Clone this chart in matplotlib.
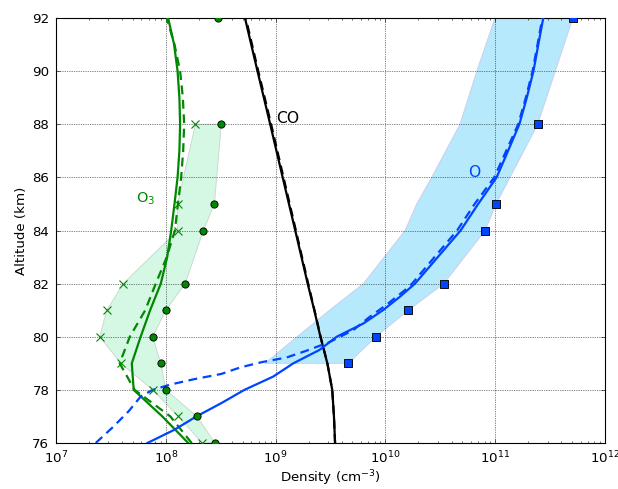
import numpy as np
import matplotlib
matplotlib.use("Agg")
import matplotlib.pyplot as plt

# ---- data ----
# O3 observations
o3_circ_alt = [76, 77, 78, 79, 80, 81, 82, 84, 85, 88, 92]
o3_circ_val = [2.8e8, 1.92e8, 1.0e8, 9.0e7, 7.6e7, 1.0e8, 1.5e8, 2.2e8, 2.77e8, 3.2e8, 3.0e8]
o3_x_alt = [76, 77, 78, 79, 80, 81, 82, 84, 85, 88]
o3_x_val = [2.15e8, 1.3e8, 7.6e7, 3.9e7, 2.5e7, 2.9e7, 4.1e7, 1.28e8, 1.28e8, 1.86e8]
o3_fill_hi = [2.8e8, 1.92e8, 1.0e8, 9.0e7, 7.6e7, 1.0e8, 1.5e8, 2.2e8, 2.77e8, 3.2e8]

# O3 models
o3_sol_alt = [76, 77, 78, 79, 80, 81, 82, 83, 84, 85, 86, 87, 88, 89, 90, 91, 92]
o3_sol_val = [1.6e8, 9.3e7, 5.1e7, 4.9e7, 5.9e7, 7.2e7, 9.0e7, 1.03e8, 1.12e8, 1.2e8, 1.28e8, 1.33e8,
              1.35e8, 1.33e8, 1.28e8, 1.19e8, 1.05e8]
o3_dash_alt = [76, 77, 78, 79, 80, 81, 82, 83, 84, 85, 86, 87, 88, 89, 90, 91, 92]
o3_dash_val = [1.72e8, 1.1e8, 5.2e7, 3.8e7, 4.7e7, 6.5e7, 8.1e7, 1.02e8, 1.21e8, 1.29e8, 1.38e8, 1.44e8,
               1.47e8, 1.43e8, 1.35e8, 1.2e8, 1.02e8]

# CO models
co_alt = [76, 77, 78, 79, 80, 81, 82, 84, 86, 88, 90, 92]
co_sol_val = [3.48e9, 3.4e9, 3.28e9, 2.96e9, 2.56e9, 2.25e9, 1.96e9, 1.51e9, 1.16e9, 8.93e8, 6.84e8, 5.26e8]
co_dash_val = [3.48e9, 3.4e9, 3.28e9, 2.96e9, 2.57e9, 2.26e9, 1.98e9, 1.53e9, 1.18e9, 9.1e8, 6.95e8, 5.35e8]

# O observations
o_sq_alt = [79, 80, 81, 82, 84, 85, 88, 92]
o_sq_val = [4.6e9, 8.2e9, 1.62e10, 3.4e10, 8.1e10, 1.02e11, 2.44e11, 5.1e11]
o_lo_alt = [79, 80, 81, 82, 84, 85, 86, 88, 90, 92]
o_lo_val = [8.0e8, 1.57e9, 3.1e9, 6.3e9, 1.51e10, 1.93e10, 2.64e10, 4.78e10, 6.8e10, 9.95e10]

# O models
o_sol_alt = [76.0, 76.5, 77.0, 77.5, 78.0, 78.5, 79.0, 79.5, 80.0, 80.5, 81.0, 81.5, 82.0,
             83.0, 84.0, 85.0, 86.0, 87.0, 88.0, 89.0, 90.0, 91.0, 92.0]
o_sol_val = [6.8e7, 1.2e8, 1.9e8, 3.2e8, 5.2e8, 9.5e8, 1.45e9, 2.5e9, 3.6e9, 6.3e9, 9.5e9, 1.35e10, 1.86e10,
             3.0e10, 4.84e10, 7.0e10, 1.03e11, 1.31e11, 1.66e11, 1.94e11, 2.23e11, 2.47e11, 2.74e11]
o_dash_alt = [76.0, 76.6, 77.2, 77.75, 78.0, 78.2, 78.4, 78.6, 78.85, 79.05, 79.22, 79.47, 79.8,
              80.25, 80.75, 81.2, 81.75, 82.0, 83.0, 84.0, 85.0, 86.0, 87.0, 88.0, 89.0, 90.0, 92.0]
o_dash_val = [2.3e7, 3.3e7, 4.6e7, 5.9e7, 7.6e7, 1.1e8, 1.8e8, 3.2e8, 4.8e8, 7.6e8, 1.26e9, 1.9e9, 3.1e9,
              5.1e9, 7.2e9, 1.02e10, 1.5e10, 1.75e10, 2.8e10, 4.5e10, 6.5e10, 9.8e10, 1.26e11, 1.62e11,
              1.9e11, 2.19e11, 2.69e11]

xticks = [1e7, 1e8, 1e9, 1e10, 1e11, 1e12]
yticks = [76, 78, 80, 82, 84, 86, 88, 90, 92]

# ---- style ----
plt.rcParams.update({
    "font.family": ["DejaVu Sans"],
    "font.size": 12,
    "mathtext.default": "regular",
    "xtick.direction": "in", "ytick.direction": "in",
    "xtick.top": True, "ytick.right": True,
    "xtick.major.size": 4, "xtick.minor.size": 2,
    "ytick.major.size": 4, "ytick.minor.size": 2,
    "xtick.major.width": 0.5, "xtick.minor.width": 0.5,
    "ytick.major.width": 0.5,
    "xtick.major.pad": 6, "ytick.major.pad": 6,
    "axes.linewidth": 1.0,
})

DPI = 80
fig = plt.figure(figsize=(618 / DPI, 489 / DPI), dpi=DPI)
ax = fig.add_axes([56 / 618, 46 / 489, 549 / 618, 425 / 489])

green = "#008800"
blue = "#0044ff"

# fills
ax.fill(np.concatenate([o_lo_val, o_sq_val[::-1]]),
        np.concatenate([o_lo_alt, o_sq_alt[::-1]]),
        facecolor="#b5e9fb", edgecolor="#cbcbee", lw=0.8, zorder=1)
ax.fill(np.concatenate([o3_x_val, o3_fill_hi[::-1]]),
        np.concatenate([o3_x_alt, o3_x_alt[::-1]]),
        facecolor="#d5f8e5", edgecolor="#c8d8cc", lw=0.8, zorder=1)

dash = (0, (4, 2.5))
# CO
ax.plot(co_dash_val, co_alt, color="k", lw=2, ls=dash, zorder=3)
ax.plot(co_sol_val, co_alt, color="k", lw=2, zorder=3)
# O3
ax.plot(o3_dash_val, o3_dash_alt, color=green, lw=2, ls=dash, zorder=3)
ax.plot(o3_sol_val, o3_sol_alt, color=green, lw=2, zorder=3)
ax.plot(o3_x_val, o3_x_alt, ls="none", marker="x", color=green, ms=7, mew=1.0, zorder=4)
ax.plot(o3_circ_val, o3_circ_alt, ls="none", marker="o", mfc=green, mec="k", ms=6.5, mew=0.8, zorder=5)
# O
ax.plot(o_dash_val, o_dash_alt, color=blue, lw=2, ls=dash, zorder=3)
ax.plot(o_sol_val, o_sol_alt, color=blue, lw=2, zorder=3)
ax.plot(o_sq_val, o_sq_alt, ls="none", marker="s", mfc=blue, mec="k", ms=6.5, mew=0.8, zorder=5)

ax.set_xscale("log")
ax.set_xlim(1e7, 1e12)
ax.set_ylim(76, 92)
ax.set_xticks(xticks)
ax.set_yticks(yticks)
ax.grid(True, which="major", color="k", ls=":", lw=0.6)

ax.text(1.02e9, 88.2, "CO", color="k", fontsize=14, va="center", ha="left")
ax.text(6.4e10, 86.2, "O", color=blue, fontsize=14, va="center", ha="center")
ax.text(5.4e7, 85.2, "O$_3$", color=green, fontsize=13, va="center", ha="left")

ax.set_xlabel("Density (cm$^{-3}$)", fontsize=12, labelpad=2)
ax.set_ylabel("Altitude (km)", fontsize=12)

fig.savefig("out.png", dpi=DPI)
